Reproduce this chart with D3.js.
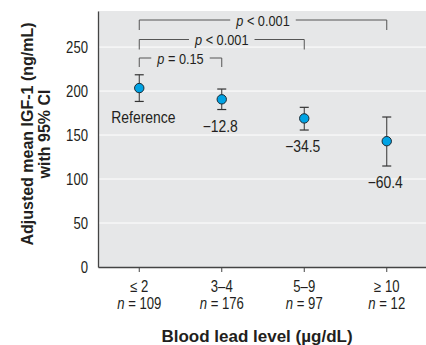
<!DOCTYPE html>
<html>
<head>
<meta charset="utf-8">
<script src="https://cdn.jsdelivr.net/npm/d3@7"></script>
<style>
  body { margin: 0; background: #fff; }
  svg { display: block; font-family: "Liberation Sans", Arial, sans-serif; }
</style>
</head>
<body>
<svg id="chart"></svg>
<script>
const categories = ["\u2264 2", "3\u20134", "5\u20139", "\u2265 10"];
const counts = [109, 176, 97, 12];
const means = [203.4, 190.6, 168.9, 143.0];
const ciLow = [188.2, 179.0, 155.7, 114.8];
const ciHigh = [218.5, 202.3, 181.5, 170.5];
const diffLabels = ["Reference", "\u221212.8", "\u221234.5", "\u221260.4"];
const yTicks = [0, 50, 100, 150, 200, 250];
// comparisons against the reference group, innermost first
const comparisons = [
  { to: 1, label: "= 0.15" },
  { to: 2, label: "< 0.001" },
  { to: 3, label: "< 0.001" }
];

const width = 426, height = 345;
const margin = { left: 98, top: 11, bottom: 78 };
const ink = "#231f20";
const SX = 0.82; // fake a condensed face by squeezing the glyphs

const svg = d3.select("#chart").attr("width", width).attr("height", height);

// turn x/y into a translate and squeeze horizontally
function condense(sel, sx) {
  sel.each(function () {
    const t = d3.select(this);
    const tx = +t.attr("x") || 0, ty = +t.attr("y") || 0;
    t.attr("x", null).attr("y", null)
      .attr("transform", `translate(${tx},${ty}) scale(${sx},1)`);
  });
}

const x = d3.scaleBand()
  .domain(categories)
  .range([margin.left, 428])
  .padding(0);

const y = d3.scaleLinear()
  .domain([0, 291])
  .range([height - margin.bottom, margin.top]);

const cx = i => x(categories[i]) + x.bandwidth() / 2;

// panel background
svg.append("rect")
  .attr("x", margin.left).attr("y", margin.top)
  .attr("width", width - margin.left).attr("height", y(0) - margin.top)
  .attr("fill", "#e6e7e8");

// gridlines
svg.append("g")
  .selectAll("line")
  .data(yTicks.filter(d => d > 0))
  .join("line")
  .attr("x1", margin.left).attr("x2", width)
  .attr("y1", d => y(d)).attr("y2", d => y(d))
  .attr("stroke", "#fff").attr("stroke-width", 1);

// y axis
const yAxis = svg.append("g")
  .attr("transform", `translate(${margin.left},0)`)
  .call(d3.axisLeft(y).tickValues(yTicks).tickSize(0));
yAxis.select(".domain").attr("stroke", "#444").attr("stroke-width", 1.3);
yAxis.selectAll(".tick text")
  .attr("font-size", 16).attr("fill", ink).attr("font-family", null)
  .attr("dy", "0.35em")
  .attr("x", -10);
condense(yAxis.selectAll(".tick text"), SX);

// x axis
const xAxis = svg.append("g")
  .attr("transform", `translate(0,${y(0)})`)
  .call(d3.axisBottom(x).tickSize(5).tickSizeOuter(0).tickFormat(""));
xAxis.select(".domain").attr("stroke", "#444").attr("stroke-width", 1.3);
xAxis.selectAll(".tick line").attr("stroke", "#444");

const xLabels = svg.append("g");
categories.forEach((c, i) => {
  xLabels.append("text")
    .attr("x", cx(i)).attr("y", y(0) + 24.5)
    .attr("text-anchor", "middle").attr("font-size", 16).attr("fill", ink)
    .text(c);
  const t = xLabels.append("text")
    .attr("x", cx(i)).attr("y", y(0) + 41.5)
    .attr("text-anchor", "middle").attr("font-size", 16).attr("fill", ink);
  t.append("tspan").attr("font-style", "italic").text("n");
  t.append("tspan").text(" = " + counts[i]);
});
condense(xLabels.selectAll("text"), SX);

// axis titles
svg.append("text")
  .attr("x", 257).attr("y", 341.5)
  .attr("text-anchor", "middle").attr("font-size", 17).attr("font-weight", "bold")
  .attr("fill", ink)
  .text("Blood lead level (\u00b5g/dL)");

const yTitle = svg.append("text")
  .attr("transform", "translate(0,134) rotate(-90)")
  .attr("text-anchor", "middle").attr("font-size", 16).attr("font-weight", "bold")
  .attr("fill", ink);
yTitle.append("tspan").attr("x", 0).attr("y", 33).text("Adjusted mean IGF-1 (ng/mL)");
yTitle.append("tspan").attr("x", 0).attr("y", 50).text("with 95% CI");

// comparison brackets
const bracketY = [58, 39.5, 20];
const bracketDrop = [9, 10, 10];
const gB = svg.append("g");
comparisons.forEach((cmp, k) => {
  const x0 = cx(0), x1 = cx(cmp.to), yy = bracketY[k];
  const mid = (x0 + x1) / 2;
  const label = gB.append("text")
    .attr("x", mid).attr("y", yy + 5.5)
    .attr("text-anchor", "middle").attr("font-size", 15).attr("fill", ink);
  label.append("tspan").attr("font-style", "italic").text("p");
  label.append("tspan").text(" " + cmp.label);
  const w = label.node().getComputedTextLength() * 0.85 / 2 + 6;
  condense(label, 0.85);
  gB.append("path")
    .attr("d", `M${x0},${yy + bracketDrop[k]}V${yy}H${mid - w}M${mid + w},${yy}H${x1}V${yy + bracketDrop[k]}`)
    .attr("fill", "none").attr("stroke", "#555").attr("stroke-width", 1);
});

// error bars
const gE = svg.append("g");
means.forEach((m, i) => {
  const px = cx(i);
  gE.append("line")
    .attr("x1", px).attr("x2", px).attr("y1", y(ciLow[i])).attr("y2", y(ciHigh[i]))
    .attr("stroke", "#333").attr("stroke-width", 1);
  [ciLow[i], ciHigh[i]].forEach(v => {
    gE.append("line")
      .attr("x1", px - 4.5).attr("x2", px + 4.5).attr("y1", y(v)).attr("y2", y(v))
      .attr("stroke", "#333").attr("stroke-width", 1.2);
  });
});

// points
svg.append("g")
  .selectAll("circle")
  .data(means)
  .join("circle")
  .attr("cx", (d, i) => cx(i))
  .attr("cy", d => y(d))
  .attr("r", 4.7)
  .attr("fill", "#00a3e4")
  .attr("stroke", "#1d2a33").attr("stroke-width", 1);

// difference labels
const diff = svg.append("g")
  .selectAll("text")
  .data(diffLabels)
  .join("text")
  .attr("x", (d, i) => i === 0 ? cx(i) - 28 : cx(i) - 1.5)
  .attr("y", (d, i) => y(ciLow[i]) + 22)
  .attr("text-anchor", (d, i) => i === 0 ? "start" : "middle")
  .attr("font-size", 16).attr("fill", ink)
  .text(d => d);
condense(diff, 0.87);
</script>
</body>
</html>
